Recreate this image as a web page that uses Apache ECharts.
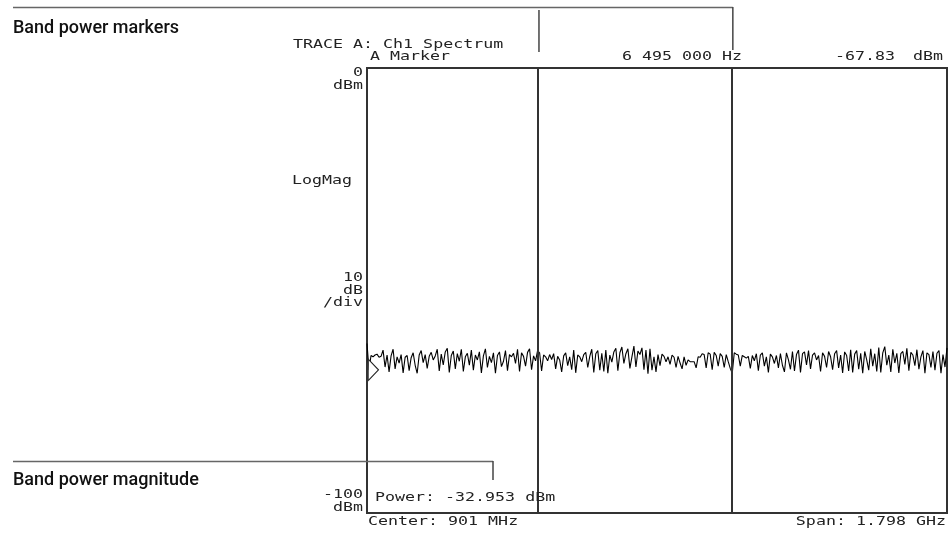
<!DOCTYPE html>
<html>
<head>
<meta charset="utf-8">
<script src="https://cdn.jsdelivr.net/npm/echarts@6/dist/echarts.min.js"></script>
<style>
html,body{margin:0;padding:0;background:#fff;}
#chart{width:948px;height:533px;}
</style>
</head>
<body>
<div id="chart"></div>
<script>
// Instrument settings
var centerMHz = 901;
var spanMHz = 1798;
var startMHz = centerMHz - spanMHz / 2; // 2 MHz
var stopMHz = centerMHz + spanMHz / 2;  // 1800 MHz
var refLevel = 0;       // dBm (top)
var bottomLevel = -100; // dBm
var dbPerDiv = 10;

// Band power marker frequencies (MHz)
var bandMarkers = [532, 1133];
// Trace A marker
var markerFreqMHz = 6.495;
var markerLevel = -67.83;
var bandPower = -32.953;

// Trace A: Ch1 spectrum amplitudes (dBm), equally spaced across the span
var traceA = [
-61.9,-67.9,-64.6,-64.9,-64.5,-64.3,-65.0,-64.8,-63.4,-67.2,-64.5,-68.3,-64.7,-63.2,-67.6,-64.9,-66.3,-64.4,-68.5,-65.0,
-64.6,-68.0,-65.1,-64.0,-66.8,-68.6,-64.5,-63.5,-66.2,-64.4,-67.5,-64.8,-63.9,-65.6,-64.7,-63.2,-68.1,-64.3,-66.7,-63.8,
-63.0,-68.4,-64.6,-63.6,-67.6,-64.2,-65.9,-63.2,-68.2,-64.9,-64.1,-66.8,-63.4,-67.9,-64.5,-65.6,-63.8,-68.5,-64.7,-63.1,
-67.3,-64.8,-66.2,-64.0,-68.6,-64.6,-63.8,-67.1,-65.9,-63.5,-68.0,-64.4,-64.9,-64.1,-66.4,-63.2,-68.2,-64.0,-64.8,-67.0,
-63.9,-63.1,-67.8,-64.7,-65.8,-63.5,
-64.0,-68.1,-64.5,-64.9,-65.8,-64.4,-65.5,-64.2,-67.6,-64.8,-65.6,-68.3,-64.7,-64.0,-66.9,-64.9,-67.8,-63.4,-68.5,-64.5,
-64.9,-66.0,-64.4,-63.9,-67.3,-64.8,-63.2,-68.4,-64.2,-63.5,-67.9,-64.1,-68.2,-63.4,-68.6,-64.5,-66.1,-63.8,-63.0,-68.0,
-64.0,-62.7,-66.4,-64.2,-63.1,-67.5,-64.9,-62.5,-67.2,-63.6,-64.4,-62.9,-67.8,-63.4,-68.7,-63.1,-67.9,-64.9,-68.3,-64.4,
-66.9,-64.3,-64.8,-66.0,-64.9,-66.6,-64.5,-65.0,-67.3,-64.8,-66.3,-67.6,-64.9,-66.8,-65.6,-66.0,-66.0,-66.0,-67.4,-64.9,
-65.0,-64.2,-64.4,-67.4,-64.0,-64.3,-67.8,-63.9,-64.6,-67.0,-64.2,-64.8,-67.3,-64.4,-66.0,-67.5,-68.6,
-64.0,-64.3,-64.5,-67.0,-64.6,-64.9,-65.2,-64.8,-67.5,-64.6,-65.8,-64.2,-68.0,-64.5,-64.0,-67.0,-64.9,-68.4,-64.3,-64.9,
-66.4,-64.6,-67.4,-64.2,-66.8,-68.3,-64.0,-65.6,-67.7,-63.7,-68.1,-64.4,-63.4,-68.4,-64.2,-63.8,-66.7,-63.5,-67.6,-64.5,
-64.0,-65.6,-64.6,-68.2,-64.0,-64.8,-67.3,-63.7,-64.9,-67.8,-64.2,-63.5,-67.4,-64.5,-68.5,-63.8,-64.6,-68.1,-63.3,-68.4,
-64.3,-63.5,-67.7,-64.1,-68.6,-63.7,-65.6,-67.9,-63.1,-67.0,-64.2,-68.2,-62.8,-68.4,-64.0,-62.6,-66.8,-64.5,-68.3,-63.2,
-66.3,-64.1,-68.5,-64.2,-63.7,-66.6,-63.0,-68.0,-63.9,-64.5,-66.9,-63.3,-67.7,-64.9,-63.5,-68.6,-64.0,-64.4,-67.3,-63.7,
-67.9,-64.1,-63.5,-68.6,-64.4,-67.2,-62.9
];

// Build [freq, level] pairs from the instrument's sweep grid
var stepMHz = spanMHz / (traceA.length - 1);
var traceData = traceA.map(function (v, i) { return [startMHz + i * stepMHz, v]; });

var MONO = '"DejaVu Sans Mono", "Liberation Mono", monospace';
var MONO_FONT = '12.5px ' + MONO;
var MONO_SCALE = 1.33;
var INK = '#222';
var LINE = '#333';

var chart = echarts.init(document.getElementById('chart'), null, { renderer: 'canvas' });

chart.setOption({
  animation: false,
  backgroundColor: '#fff',
  grid: {
    left: 367, right: 1, top: 68, bottom: 20,
    show: true, borderColor: LINE, borderWidth: 2, backgroundColor: 'transparent'
  },
  xAxis: {
    type: 'value', min: startMHz, max: stopMHz,
    axisLine: { show: false }, axisTick: { show: false },
    axisLabel: { show: false }, splitLine: { show: false }
  },
  yAxis: {
    type: 'value', min: bottomLevel, max: refLevel, interval: dbPerDiv,
    axisLine: { show: false }, axisTick: { show: false },
    axisLabel: { show: false }, splitLine: { show: false }
  },
  series: [{
    type: 'line',
    data: traceData,
    showSymbol: false,
    symbol: 'none',
    lineStyle: { color: '#000', width: 1.1 },
    z: 3,
    markLine: {
      silent: true,
      symbol: ['none', 'none'],
      label: { show: false },
      lineStyle: { color: LINE, width: 2, type: 'solid' },
      data: bandMarkers.map(function (f) { return { xAxis: f }; })
    },
    markPoint: {
      silent: true,
      symbol: 'triangle',
      symbolSize: [21, 10],
      symbolRotate: -90,
      symbolOffset: [5, 0],
      itemStyle: { color: '#fff', borderColor: '#222', borderWidth: 1 },
      label: { show: false },
      data: [{ coord: [markerFreqMHz, markerLevel] }]
    }
  }]
});

// Annotation texts and leader lines placed from the axes' pixel mapping
function px(f, v) { return chart.convertToPixel({ gridIndex: 0 }, [f, v]); }
var topLeft = px(startMHz, refLevel);
var gl = topLeft[0];
var m1x = px(bandMarkers[0], 0)[0];
var m2x = px(bandMarkers[1], 0)[0];

function txt(s, x, y, align) {
  return {
    type: 'text', silent: true, z: 10,
    x: x, y: y, scaleX: MONO_SCALE,
    style: { text: s, x: 0, y: 0, textAlign: align || 'left', textVerticalAlign: 'middle',
             font: MONO_FONT, fill: INK }
  };
}
function head(s, x, y) {
  return {
    type: 'text', silent: true, z: 10,
    style: { text: s, x: x, y: y, textAlign: 'left', textVerticalAlign: 'middle',
             font: '500 18px Roboto, "Liberation Sans", sans-serif', fill: '#111' }
  };
}
function ln(x1, y1, x2, y2, color, w) {
  return { type: 'line', silent: true, z: 10,
           shape: { x1: x1, y1: y1, x2: x2, y2: y2 },
           style: { stroke: color || '#555', lineWidth: w || 1 } };
}

var lab = gl - 4;
var elements = [
  // callouts
  ln(13, 7.5, m2x + 1, 7.5, '#666', 1.5),
  ln(m1x + 1, 10, m1x + 1, 52, '#444', 1.5),
  ln(m2x + 1, 7, m2x + 1, 50, '#444', 1.5),
  head('Band power markers', 13, 28),
  ln(13, 461.5, 493, 461.5, '#666', 1.5),
  ln(493, 461, 493, 480, '#444', 1.5),
  head('Band power magnitude', 13, 480),

  // header texts
  txt('TRACE A: Ch1 Spectrum', 293, 45),
  txt('A Marker', gl + 3, 57),
  txt('6 495 000 Hz', 742, 57, 'right'),
  txt('-67.83', 895, 57, 'right'),
  txt('dBm', 943, 57, 'right'),

  // left scale texts
  txt('0', lab, 73, 'right'),
  txt('dBm', lab, 86, 'right'),
  txt('LogMag', 352, 181, 'right'),
  txt('10', lab, 278, 'right'),
  txt('dB', lab, 291, 'right'),
  txt('/div', lab, 303, 'right'),
  txt('-100', lab, 495, 'right'),
  txt('dBm', lab, 508, 'right'),

  // bottom texts
  txt('Power: ' + bandPower.toFixed(3) + ' dBm', gl + 8, 498),
  txt('Center: ' + centerMHz + ' MHz', gl + 1, 522),
  txt('Span: 1.798 GHz', 946, 522, 'right')
];
chart.setOption({ graphic: { elements: elements } });
</script>
</body>
</html>
